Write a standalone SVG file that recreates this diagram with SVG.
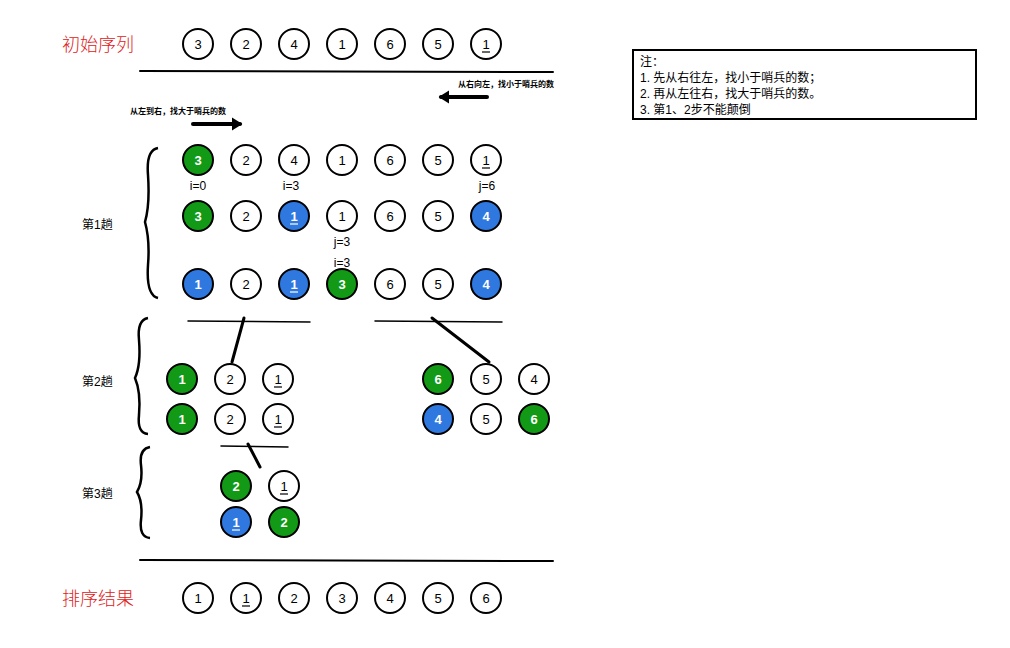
<svg xmlns="http://www.w3.org/2000/svg" width="1010" height="648" viewBox="0 0 1010 648">
<style>
.n circle{stroke:#000;stroke-width:2}
.w circle{fill:#fff}
.g circle{fill:#129a16}
.b circle{fill:#2e78e0}
.n text{font-family:"Liberation Sans",Arial,sans-serif;font-size:13px;text-anchor:middle;dominant-baseline:central}
.w text{fill:#000}
.g text,.b text{fill:#fff;font-weight:bold}
.u{stroke-width:1.2}
.w .u{stroke:#000}
.b .u{stroke:#fff}
.t{font-family:"Liberation Sans","Noto Sans CJK SC",sans-serif;font-size:12px;fill:#000}
.red{font-family:"Noto Sans CJK SC",sans-serif;font-size:18px;fill:#e02020;font-weight:300}
.sm{font-family:"Noto Sans CJK SC",sans-serif;font-size:8px;fill:#000;font-weight:bold}
.ln{stroke:#000;fill:none;stroke-linecap:round}
.br{stroke:#000;stroke-width:2.5;fill:none}
</style>
<defs>
<marker id="ah" markerWidth="4" markerHeight="4" refX="2" refY="2" orient="auto" markerUnits="strokeWidth">
<path d="M0,0.4 L2.6,2 L0,3.6 Z" fill="#000"/>
</marker>
</defs>

<text class="red" x="62" y="51">初始序列</text>
<text class="red" x="62" y="605">排序结果</text>

<g id="init">
<g class="n w"><circle cx="198" cy="44" r="15"/><text x="198" y="44">3</text></g>
<g class="n w"><circle cx="246" cy="44" r="15"/><text x="246" y="44">2</text></g>
<g class="n w"><circle cx="294" cy="44" r="15"/><text x="294" y="44">4</text></g>
<g class="n w"><circle cx="342" cy="44" r="15"/><text x="342" y="44">1</text></g>
<g class="n w"><circle cx="390" cy="44" r="15"/><text x="390" y="44">6</text></g>
<g class="n w"><circle cx="438" cy="44" r="15"/><text x="438" y="44">5</text></g>
<g class="n w"><circle cx="486" cy="44" r="15"/><text x="486" y="44">1</text><line class="u" x1="482" y1="52" x2="490" y2="52"/></g>
</g>

<g id="connectors">
<path class="ln" d="M140 71 L553 72" stroke-width="2"/>
<path class="ln" d="M140 560 L553 561" stroke-width="2"/>
<line class="ln" x1="487" y1="97" x2="441" y2="97" stroke-width="4" marker-end="url(#ah)"/>
<line class="ln" x1="193" y1="124" x2="240" y2="124" stroke-width="4" marker-end="url(#ah)"/>
<path class="ln" d="M188 321 L310 322" stroke-width="1.5"/>
<path class="ln" d="M244 318 L232 362" stroke-width="3"/>
<path class="ln" d="M375 321 L502 322" stroke-width="1.5"/>
<path class="ln" d="M432 318 L489 362" stroke-width="3"/>
<path class="ln" d="M221 446 L288 447" stroke-width="1.5"/>
<path class="ln" d="M248 444 L260 467" stroke-width="3"/>
<path class="br" d="M158 148 Q146 150 148 175 Q150 205 145 222 Q150 240 148 265 Q146 295 158 298"/>
<path class="br" d="M148 318 Q137 320 139 340 Q141 365 135 378 Q141 392 139 415 Q137 433 148 434"/>
<path class="br" d="M150 447 Q139 449 141 465 Q143 482 137 492 Q143 502 141 520 Q139 537 150 538"/>
</g>

<text class="sm" x="458" y="87">从右向左，找小于哨兵的数</text>
<text class="sm" x="130" y="114">从左到右，找大于哨兵的数</text>

<g id="note">
<rect x="633" y="50" width="343" height="69" fill="#fff" stroke="#000" stroke-width="2"/>
<text class="t" x="640" y="66">注：</text>
<text class="t" x="640" y="82">1. 先从右往左，找小于哨兵的数；</text>
<text class="t" x="640" y="98">2. 再从左往右，找大于哨兵的数。</text>
<text class="t" x="640" y="114">3. 第1、2步不能颠倒</text>
</g>

<text class="t" x="82" y="229">第1趟</text>
<text class="t" x="82" y="386">第2趟</text>
<text class="t" x="82" y="498">第3趟</text>

<g id="p1r1">
<g class="n g"><circle cx="198" cy="160" r="15"/><text x="198" y="160">3</text></g>
<g class="n w"><circle cx="246" cy="160" r="15"/><text x="246" y="160">2</text></g>
<g class="n w"><circle cx="294" cy="160" r="15"/><text x="294" y="160">4</text></g>
<g class="n w"><circle cx="342" cy="160" r="15"/><text x="342" y="160">1</text></g>
<g class="n w"><circle cx="390" cy="160" r="15"/><text x="390" y="160">6</text></g>
<g class="n w"><circle cx="438" cy="160" r="15"/><text x="438" y="160">5</text></g>
<g class="n w"><circle cx="486" cy="160" r="15"/><text x="486" y="160">1</text><line class="u" x1="482" y1="168" x2="490" y2="168"/></g>
</g>
<text class="t" x="198" y="190" text-anchor="middle">i=0</text>
<text class="t" x="291" y="190" text-anchor="middle">i=3</text>
<text class="t" x="487" y="190" text-anchor="middle">j=6</text>

<g id="p1r2">
<g class="n g"><circle cx="198" cy="216" r="15"/><text x="198" y="216">3</text></g>
<g class="n w"><circle cx="246" cy="216" r="15"/><text x="246" y="216">2</text></g>
<g class="n b"><circle cx="294" cy="216" r="15"/><text x="294" y="216">1</text><line class="u" x1="290" y1="224" x2="298" y2="224"/></g>
<g class="n w"><circle cx="342" cy="216" r="15"/><text x="342" y="216">1</text></g>
<g class="n w"><circle cx="390" cy="216" r="15"/><text x="390" y="216">6</text></g>
<g class="n w"><circle cx="438" cy="216" r="15"/><text x="438" y="216">5</text></g>
<g class="n b"><circle cx="486" cy="216" r="15"/><text x="486" y="216">4</text></g>
</g>
<text class="t" x="342" y="246" text-anchor="middle">j=3</text>
<text class="t" x="342" y="267" text-anchor="middle">i=3</text>

<g id="p1r3">
<g class="n b"><circle cx="198" cy="284" r="15"/><text x="198" y="284">1</text></g>
<g class="n w"><circle cx="246" cy="284" r="15"/><text x="246" y="284">2</text></g>
<g class="n b"><circle cx="294" cy="284" r="15"/><text x="294" y="284">1</text><line class="u" x1="290" y1="292" x2="298" y2="292"/></g>
<g class="n g"><circle cx="342" cy="284" r="15"/><text x="342" y="284">3</text></g>
<g class="n w"><circle cx="390" cy="284" r="15"/><text x="390" y="284">6</text></g>
<g class="n w"><circle cx="438" cy="284" r="15"/><text x="438" y="284">5</text></g>
<g class="n b"><circle cx="486" cy="284" r="15"/><text x="486" y="284">4</text></g>
</g>

<g id="p2l">
<g class="n g"><circle cx="182" cy="379" r="15"/><text x="182" y="379">1</text></g>
<g class="n w"><circle cx="230" cy="379" r="15"/><text x="230" y="379">2</text></g>
<g class="n w"><circle cx="278" cy="379" r="15"/><text x="278" y="379">1</text><line class="u" x1="274" y1="387" x2="282" y2="387"/></g>
<g class="n g"><circle cx="182" cy="419" r="15"/><text x="182" y="419">1</text></g>
<g class="n w"><circle cx="230" cy="419" r="15"/><text x="230" y="419">2</text></g>
<g class="n w"><circle cx="278" cy="419" r="15"/><text x="278" y="419">1</text><line class="u" x1="274" y1="427" x2="282" y2="427"/></g>
</g>

<g id="p2r">
<g class="n g"><circle cx="438" cy="379" r="15"/><text x="438" y="379">6</text></g>
<g class="n w"><circle cx="486" cy="379" r="15"/><text x="486" y="379">5</text></g>
<g class="n w"><circle cx="534" cy="379" r="15"/><text x="534" y="379">4</text></g>
<g class="n b"><circle cx="438" cy="419" r="15"/><text x="438" y="419">4</text></g>
<g class="n w"><circle cx="486" cy="419" r="15"/><text x="486" y="419">5</text></g>
<g class="n g"><circle cx="534" cy="419" r="15"/><text x="534" y="419">6</text></g>
</g>

<g id="p3">
<g class="n g"><circle cx="236" cy="486" r="15"/><text x="236" y="486">2</text></g>
<g class="n w"><circle cx="284" cy="486" r="15"/><text x="284" y="486">1</text><line class="u" x1="280" y1="494" x2="288" y2="494"/></g>
<g class="n b"><circle cx="236" cy="522" r="15"/><text x="236" y="522">1</text><line class="u" x1="232" y1="530" x2="240" y2="530"/></g>
<g class="n g"><circle cx="284" cy="522" r="15"/><text x="284" y="522">2</text></g>
</g>

<g id="result">
<g class="n w"><circle cx="198" cy="598" r="15"/><text x="198" y="598">1</text></g>
<g class="n w"><circle cx="246" cy="598" r="15"/><text x="246" y="598">1</text><line class="u" x1="242" y1="606" x2="250" y2="606"/></g>
<g class="n w"><circle cx="294" cy="598" r="15"/><text x="294" y="598">2</text></g>
<g class="n w"><circle cx="342" cy="598" r="15"/><text x="342" y="598">3</text></g>
<g class="n w"><circle cx="390" cy="598" r="15"/><text x="390" y="598">4</text></g>
<g class="n w"><circle cx="438" cy="598" r="15"/><text x="438" y="598">5</text></g>
<g class="n w"><circle cx="486" cy="598" r="15"/><text x="486" y="598">6</text></g>
</g>
</svg>
